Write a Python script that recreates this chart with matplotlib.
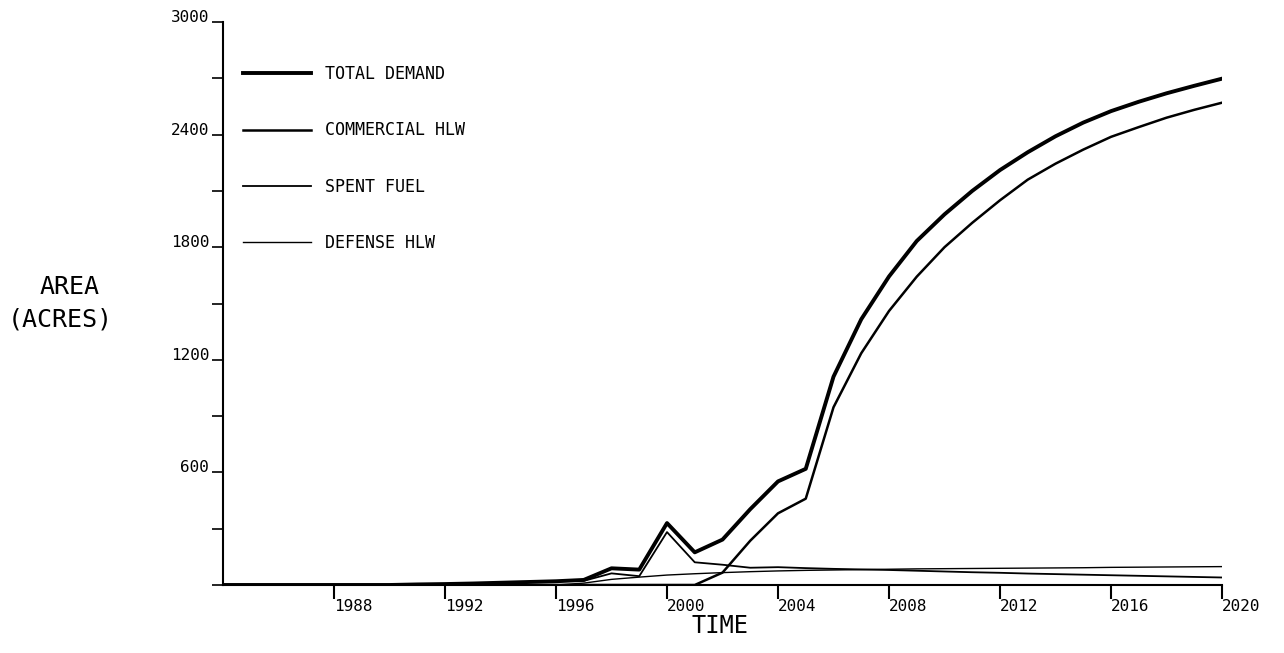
import matplotlib
matplotlib.use("Agg")
import matplotlib.pyplot as plt
from matplotlib.ticker import MultipleLocator

plt.rcParams['font.family'] = ['DejaVu Sans Mono']

years = list(range(1984, 2021))

total_demand = [0, 0, 0, 0, 0, 0, 0, 3, 5, 8, 12, 16, 20, 27, 89, 82, 330,
                174, 242, 404, 552, 619, 1110, 1416, 1644, 1833, 1975, 2100,
                2211, 2306, 2391, 2464, 2525, 2575, 2620, 2660, 2698]
commercial_hlw = [0] * 18 + [66, 236, 382, 460, 947, 1235, 1460, 1643, 1800,
                             1930, 2050, 2160, 2245, 2320, 2388, 2440, 2490,
                             2532, 2570]
spent_fuel = [0, 0, 0, 0, 0, 0, 0, 3, 5, 8, 12, 16, 20, 22, 62, 47, 282,
              121, 108, 92, 95, 90, 86, 83, 80, 76, 72, 68, 65, 61, 58, 55,
              52, 49, 46, 43, 40]
defense_hlw = [0] * 13 + [10, 30, 42, 53, 60, 66, 71, 75, 78, 80, 82, 84, 86,
                          87, 88, 89, 90, 91, 92, 94, 95, 96, 97, 98]

labels = ['TOTAL DEMAND', 'COMMERCIAL HLW', 'SPENT FUEL', 'DEFENSE HLW']
x_ticks = list(range(1988, 2021, 4))
y_ticks = [600, 1200, 1800, 2400, 3000]

fig = plt.figure(figsize=(12.84, 6.53), dpi=100)
ax = fig.add_axes([223 / 1284, 1 - 585 / 653, (1222 - 223) / 1284, (585 - 22) / 653])

ax.plot(years, total_demand, color='black', lw=2.8, label=labels[0])
ax.plot(years, commercial_hlw, color='black', lw=1.8, label=labels[1])
ax.plot(years, spent_fuel, color='black', lw=1.3, label=labels[2])
ax.plot(years, defense_hlw, color='black', lw=1.0, label=labels[3])

ax.set_xlim(1984, 2020)
ax.set_ylim(0, 3000)
ax.spines['top'].set_visible(False)
ax.spines['right'].set_visible(False)
ax.spines['left'].set_linewidth(1.5)
ax.spines['bottom'].set_linewidth(1.5)

ax.set_xticks(x_ticks)
ax.set_xticklabels([str(y) for y in x_ticks], ha='left', fontsize=11.5)
ax.set_yticks(y_ticks)
ax.set_yticklabels([str(v) for v in y_ticks], va='baseline', fontsize=11.5)
ax.yaxis.set_minor_locator(MultipleLocator(300))
ax.tick_params(axis='x', direction='out', length=10, width=1.5, pad=0)
ax.tick_params(axis='y', which='both', direction='out', length=8, width=1.2, pad=2)

leg = ax.legend(loc='upper left', bbox_to_anchor=(243 / 1284, 1 - 65 / 653),
                bbox_transform=fig.transFigure, frameon=False, fontsize=12,
                handlelength=4.1, handletextpad=0.8, labelspacing=2.3,
                borderpad=0, borderaxespad=0)

fig.text(70 / 1284, 1 - 287 / 653, 'AREA', fontsize=18, ha='center', va='center')
fig.text(60 / 1284, 1 - 320 / 653, '(ACRES)', fontsize=18, ha='center', va='center')
fig.text(720 / 1284, 1 - 626 / 653, 'TIME', fontsize=17, ha='center', va='center')

fig.savefig('out.png', dpi=100)
